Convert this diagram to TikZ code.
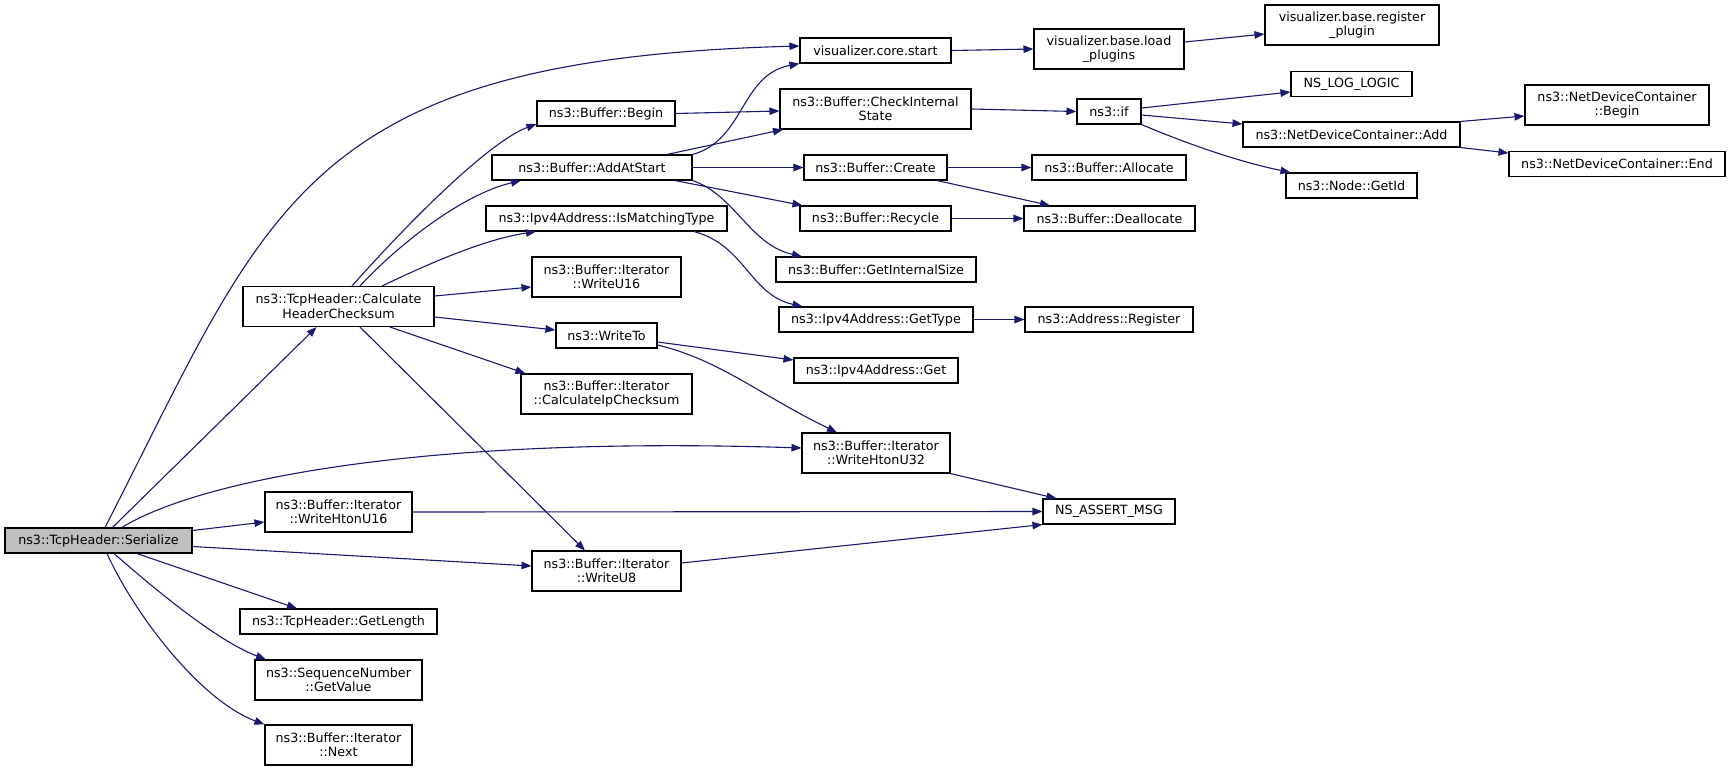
\documentclass[tikz,border=0pt]{standalone}
\usepackage{fontspec}
\setmainfont{DejaVu Sans}
\usetikzlibrary{arrows.meta}
\definecolor{edgeblue}{RGB}{25,25,112}
\definecolor{rootgray}{RGB}{191,191,191}
\tikzset{
  fn/.style={draw=black, line width=1.1pt, fill=white, inner sep=0pt, minimum height=25, align=center,
    font=\fontsize{12.7}{14.5}\selectfont},
  fntwo/.style={fn, minimum height=40},
  edge/.style={draw=edgeblue, line width=1.1pt, -{Triangle[length=10pt,width=7.5pt]}}
}
\begin{document}
\begin{tikzpicture}[x=1pt, y=-1pt]
\useasboundingbox (0,0) rectangle (1731,771);
% column 1
\node[fn, fill=rootgray, minimum width=187] (ser) at (98.5,540.5) {ns3::TcpHeader::Serialize};
% column 2
\node[fntwo, minimum width=191] (calc) at (338.5,306.5) {ns3::TcpHeader::Calculate\\HeaderChecksum};
\node[fntwo, minimum width=147] (whu16) at (338.5,512) {ns3::Buffer::Iterator\\::WriteHtonU16};
\node[fn, minimum width=197] (getlen) at (338.5,621.5) {ns3::TcpHeader::GetLength};
\node[fntwo, minimum width=167] (getval) at (338.5,680) {ns3::SequenceNumber\\::GetValue};
\node[fntwo, minimum width=147] (next) at (338.5,745) {ns3::Buffer::Iterator\\::Next};
% column 3
\node[fn, minimum width=138] (bbegin) at (606,113.5) {ns3::Buffer::Begin};
\node[fn, minimum width=200] (addat) at (592,167.5) {ns3::Buffer::AddAtStart};
\node[fn, minimum width=241] (ismatch) at (606.5,218.5) {ns3::Ipv4Address::IsMatchingType};
\node[fntwo, minimum width=149] (wu16) at (606.5,277) {ns3::Buffer::Iterator\\::WriteU16};
\node[fn, minimum width=101] (writeto) at (606.5,335.5) {ns3::WriteTo};
\node[fntwo, minimum width=171] (calcip) at (606.5,394) {ns3::Buffer::Iterator\\::CalculateIpChecksum};
\node[fntwo, minimum width=149] (wu8) at (606.5,571) {ns3::Buffer::Iterator\\::WriteU8};
% column 4
\node[fn, minimum width=151] (vcs) at (875.5,50.5) {visualizer.core.start};
\node[fntwo, minimum width=191] (check) at (875.5,109) {ns3::Buffer::CheckInternal\\State};
\node[fn, minimum width=143] (create) at (875.5,167.5) {ns3::Buffer::Create};
\node[fn, minimum width=151] (recycle) at (875.5,218.5) {ns3::Buffer::Recycle};
\node[fn, minimum width=200] (getis) at (876,269.5) {ns3::Buffer::GetInternalSize};
\node[fn, minimum width=194] (gettype) at (876,319.5) {ns3::Ipv4Address::GetType};
\node[fn, minimum width=164] (ipget) at (876,370.5) {ns3::Ipv4Address::Get};
\node[fntwo, minimum width=148] (whu32) at (876,453) {ns3::Buffer::Iterator\\::WriteHtonU32};
% column 5
\node[fntwo, minimum width=150] (vload) at (1109,49) {visualizer.base.load\\\_plugins};
\node[fn, minimum width=64] (if) at (1109,111.5) {ns3::if};
\node[fn, minimum width=154] (alloc) at (1109,167.5) {ns3::Buffer::Allocate};
\node[fn, minimum width=171] (dealloc) at (1109.5,218.5) {ns3::Buffer::Deallocate};
\node[fn, minimum width=168] (areg) at (1109,319.5) {ns3::Address::Register};
\node[fn, minimum width=132] (assert) at (1109,511.5) {NS\_ASSERT\_MSG};
% column 6
\node[fntwo, minimum width=174] (vreg) at (1352,25) {visualizer.base.register\\\_plugin};
\node[fn, minimum width=121] (log) at (1351.5,84) {NS\_LOG\_LOGIC};
\node[fn, minimum width=217] (ndcadd) at (1351.5,134.5) {ns3::NetDeviceContainer::Add};
\node[fn, minimum width=131] (getid) at (1351.5,185.5) {ns3::Node::GetId};
% column 7
\node[fntwo, minimum width=184] (ndcbegin) at (1617,105) {ns3::NetDeviceContainer\\::Begin};
\node[fn, minimum width=216] (ndcend) at (1617,164) {ns3::NetDeviceContainer::End};

% calls of Serialize
\draw[edge] ([xshift=6.5]ser.north) .. controls (269,208) and (300,59.5) .. ([yshift=4.5]vcs.west);
\draw[edge] ([xshift=14]ser.north) -- ([xshift=-22]calc.south);
\draw[edge] ([xshift=23.5]ser.north) .. controls (190,485) and (400,435) .. ([yshift=5]whu32.west);
\draw[edge] ([yshift=10]ser.east) -- ([yshift=-10]whu16.west);
\draw[edge] ([yshift=-6]ser.east) -- ([yshift=5]wu8.west);
\draw[edge] ([xshift=38.5]ser.south) -- ([xshift=-41.5]getlen.north);
\draw[edge] ([xshift=15.5]ser.south) .. controls (150,585) and (215,640) .. ([xshift=-72.5]getval.north);
\draw[edge] ([xshift=8.5]ser.south) .. controls (135,615) and (200,700) .. (next.north west);

% calls of CalculateHeaderChecksum
\draw[edge] ([xshift=13.5]calc.north) .. controls (416,214) and (491,141) .. ([yshift=-10.5]bbegin.west);
\draw[edge] ([xshift=21.5]calc.north) .. controls (395,248) and (460,195) .. ([xshift=-71]addat.south);
\draw[edge] ([xshift=43.5]calc.north) .. controls (420,268) and (480,240) .. ([xshift=-70.5]ismatch.south);
\draw[edge] ([yshift=10.5]calc.east) -- ([yshift=-10]wu16.west);
\draw[edge] ([yshift=-10.5]calc.east) -- ([yshift=5.5]writeto.west);
\draw[edge] ([xshift=51.5]calc.south) -- ([xshift=5]calcip.north west);
\draw[edge] ([xshift=21.5]calc.south) -- ([xshift=-21.5]wu8.north);

% calls of AddAtStart
\draw[edge] (addat.north east) .. controls (745,140) and (740,75) .. (vcs.south west);
\draw[edge] ([xshift=75]addat.north) -- ([xshift=-92.5]check.south);
\draw[edge] ([xshift=83]addat.south) -- ([xshift=-73]recycle.north);
\draw[edge] (addat.south east) .. controls (735,195) and (750,245) .. ([xshift=-74]getis.north);

% remaining calls
\foreach \a/\b in {addat.east/create.west, check.east/if.west, vcs.east/vload.west,
                   create.east/alloc.west, recycle.east/dealloc.west, gettype.east/areg.west,
                   whu16.east/assert.west}
  \draw[edge] (\a) -- (\b);
\draw[edge] (bbegin.east) -- ([yshift=-2]check.west);
\draw[edge] ([yshift=3.5]if.east) -- ([yshift=-8]log.west);
\draw[edge] ([yshift=-3.5]if.east) -- ([yshift=10.5]ndcadd.west);
\draw[edge] (if.south east) .. controls (1190,145) and (1240,162) .. ([xshift=5]getid.north west);
\draw[edge] (ndcadd.north east) -- ([yshift=-11]ndcbegin.west);
\draw[edge] (ndcadd.south east) -- ([yshift=11]ndcend.west);
\draw[edge] ([yshift=7]vload.east) -- ([yshift=-9]vreg.west);
\draw[edge] ([xshift=61.5]create.south) -- ([xshift=-59.5]dealloc.north);
\draw[edge] ([xshift=87.5]ismatch.south) .. controls (745,245) and (750,295) .. ([xshift=-73.5]gettype.north);
\draw[edge] ([yshift=-6.5]writeto.east) -- ([yshift=10.5]ipget.west);
\draw[edge] ([yshift=-9.5]writeto.east) .. controls (720,360) and (760,395) .. ([xshift=-39]whu32.north);
\draw[edge] (whu32.south east) -- ([xshift=14]assert.north west);
\draw[edge] ([yshift=8]wu8.east) -- (assert.south west);
\end{tikzpicture}
\end{document}
